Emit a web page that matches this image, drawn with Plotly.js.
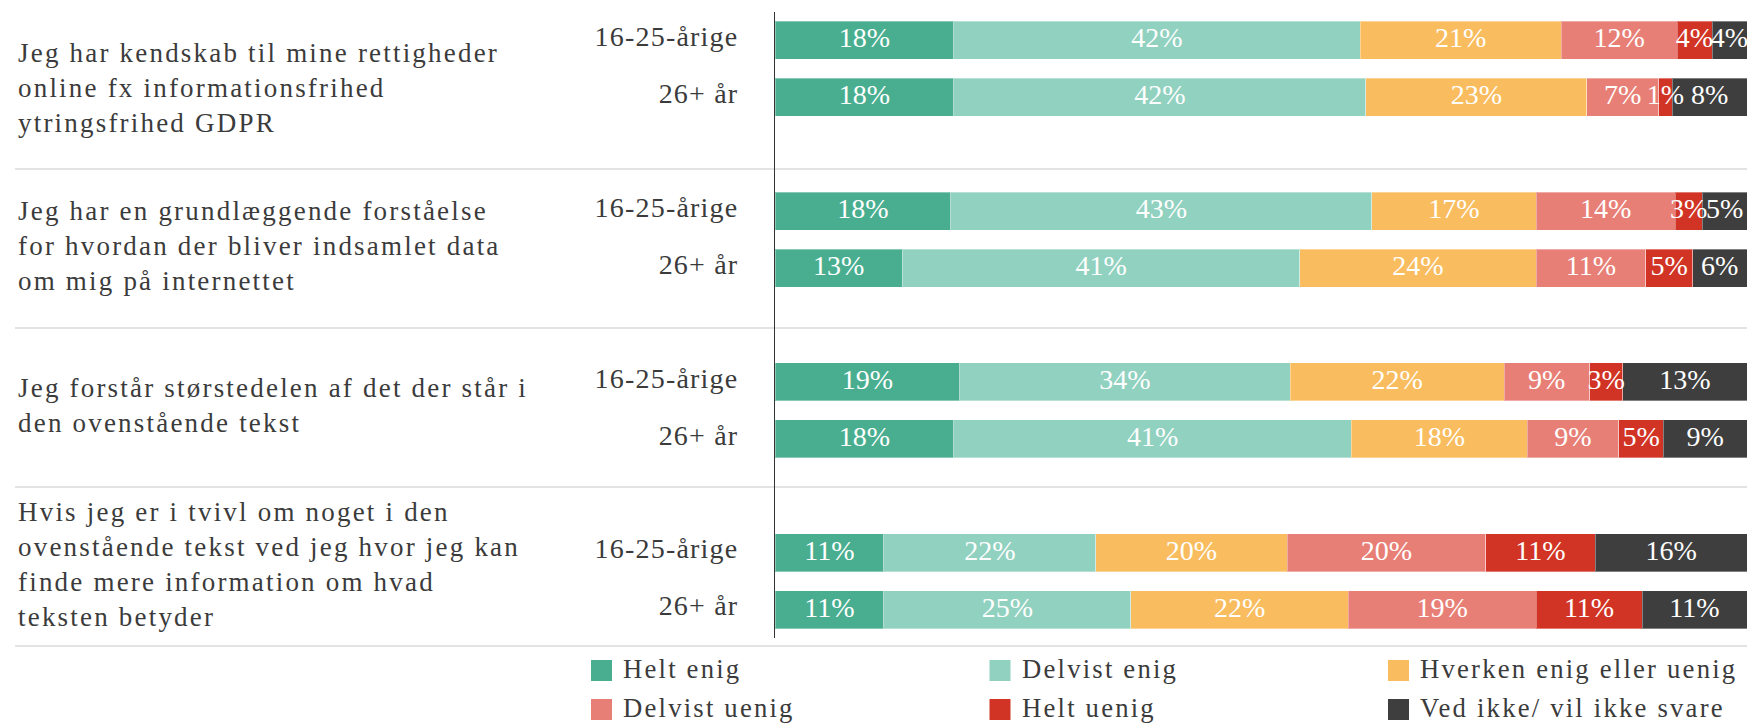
<!DOCTYPE html>
<html>
<head>
<meta charset="utf-8">
<script src="https://cdn.plot.ly/plotly-3.0.1.min.js"></script>
<style>
  html, body { margin: 0; padding: 0; background: #fff; }
  #chart { width: 1747px; height: 726px; }
  .annotation-text { letter-spacing: 2.2px; }
  .ytick text { letter-spacing: 1.2px; }
</style>
</head>
<body>
<div id="chart"></div>
<script>
// ---- data ----
const categories = ['Helt enig', 'Delvist enig', 'Hverken enig eller uenig', 'Delvist uenig', 'Helt uenig', 'Ved ikke/ vil ikke svare'];
const colors = ['#48AE8F', '#91D1BF', '#F9BD5F', '#E87F77', '#D13424', '#3E3E3E'];
const questions = [
  'Jeg har kendskab til mine rettigheder<br>online fx informationsfrihed<br>ytringsfrihed GDPR',
  'Jeg har en grundlæggende forståelse<br>for hvordan der bliver indsamlet data<br>om mig på internettet',
  'Jeg forstår størstedelen af det der står i<br>den ovenstående tekst',
  'Hvis jeg er i tvivl om noget i den<br>ovenstående tekst ved jeg hvor jeg kan<br>finde mere information om hvad<br>teksten betyder'
];
const groups = ['16-25-årige', '26+ år'];
// rows: Q1 16-25, Q1 26+, Q2 16-25, Q2 26+, Q3 16-25, Q3 26+, Q4 16-25, Q4 26+
const heltEnig     = [18.4, 18.4, 18.1, 13.1, 19.0, 18.4, 11.2, 11.2];
const delvistEnig  = [41.8, 42.4, 43.3, 40.9, 34.0, 40.9, 21.8, 25.4];
const hverken      = [20.7, 22.7, 16.9, 24.3, 22.0, 18.1, 19.7, 22.4];
const delvistUenig = [11.9,  7.4, 14.3, 11.3,  8.8,  9.4, 20.4, 19.3];
const heltUenig    = [ 3.6,  1.4,  2.8,  4.8,  3.4,  4.6, 11.3, 10.9];
const vedIkke      = [ 3.6,  7.7,  4.6,  5.6, 12.8,  8.6, 15.6, 10.8];
const series = [heltEnig, delvistEnig, hverken, delvistUenig, heltUenig, vedIkke];

// ---- layout helpers ----
const FONT = 'Liberation Serif, Times New Roman, serif';
const W = 1747, H = 726;
const M = { l: 775, r: 0, t: 12, b: 88 };
const plotW = W - M.l - M.r, plotH = H - M.t - M.b;
const px2x = px => (px - M.l) / plotW;
const py2y = py => (H - M.b - py) / plotH;

const nRows = heltEnig.length;
const yPos = [];
const yText = [];
for (let i = 0; i < nRows; i++) {
  yPos.push(3 * Math.floor(i / 2) + (i % 2));
  yText.push(groups[i % 2]);
}

const traces = series.map((vals, k) => ({
  type: 'bar',
  orientation: 'h',
  name: categories[k],
  x: vals,
  y: yPos,
  marker: { color: colors[k], line: { color: 'rgba(255,255,255,0.35)', width: 1 } },
  hoverinfo: 'skip',
  showlegend: false
}));

// value labels: drawn on top of all bars, centred in each segment
const lblX = [], lblY = [], lblT = [];
for (let i = 0; i < nRows; i++) {
  let start = 0;
  series.forEach(vals => {
    lblX.push(start + vals[i] / 2);
    lblY.push(yPos[i]);
    lblT.push(vals[i].toFixed(0) + '%');
    start += vals[i];
  });
}
traces.push({
  type: 'scatter',
  mode: 'text',
  x: lblX, y: lblY, text: lblT,
  textposition: 'middle center',
  textfont: { family: FONT, size: 28, color: '#ffffff' },
  cliponaxis: false,
  hoverinfo: 'skip',
  showlegend: false
});

const shapes = [];
const annotations = [];
// question rows (left table): each 159px tall, starting at ~10px
const rowTop = 10, rowH = 159;
questions.forEach((q, i) => {
  const sepY = rowTop + rowH * (i + 1);
  shapes.push({
    type: 'line', xref: 'paper', yref: 'paper',
    x0: px2x(15), x1: 1, y0: py2y(sepY), y1: py2y(sepY),
    line: { color: '#e3e3e3', width: 2 }, layer: 'below'
  });
  annotations.push({
    xref: 'paper', yref: 'paper',
    x: px2x(16), y: py2y(rowTop + rowH * i + rowH / 2 - 2),
    xanchor: 'left', yanchor: 'middle', align: 'left',
    text: q, showarrow: false,
    font: { family: FONT, size: 27, color: '#3b3b3b' }
  });
});

// legend (manual, 3 columns x 2 rows)
categories.forEach((c, i) => {
  const col = i % 3, row = Math.floor(i / 3);
  const sx = 591 + col * 398.5;
  const cy = 670 + row * 39;
  shapes.push({
    type: 'rect', xref: 'paper', yref: 'paper',
    x0: px2x(sx), x1: px2x(sx + 21), y0: py2y(cy - 10), y1: py2y(cy + 11),
    fillcolor: colors[i], line: { width: 0 }
  });
  annotations.push({
    xref: 'paper', yref: 'paper',
    x: px2x(sx + 30), y: py2y(cy - 1),
    xanchor: 'left', yanchor: 'middle',
    text: c, showarrow: false,
    font: { family: FONT, size: 26.7, color: '#3b3b3b' }
  });
});

const layout = {
  width: W, height: H,
  margin: M,
  barmode: 'stack',
  bargap: 0.333,
  paper_bgcolor: '#ffffff',
  plot_bgcolor: '#ffffff',
  showlegend: false,
  xaxis: { range: [0, 100], visible: false, fixedrange: true },
  yaxis: {
    range: [10.5, -0.5],
    tickvals: yPos, ticktext: yText,
    showline: true, linecolor: '#333333', linewidth: 1,
    ticks: 'outside', ticklen: 30, tickcolor: 'rgba(0,0,0,0)',
    ticklabelshift: 4,
    showgrid: false, zeroline: false, fixedrange: true,
    tickfont: { family: FONT, size: 28, color: '#3b3b3b' }
  },
  shapes: shapes,
  annotations: annotations,
  font: { family: FONT }
};

Plotly.newPlot('chart', traces, layout, { displayModeBar: false, staticPlot: true });
</script>
</body>
</html>
